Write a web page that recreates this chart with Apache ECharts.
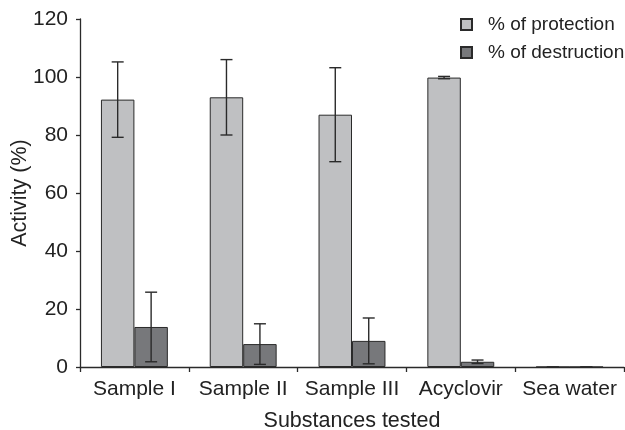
<!DOCTYPE html>
<html>
<head>
<meta charset="utf-8">
<script src="https://cdn.jsdelivr.net/npm/echarts@6/dist/echarts.min.js"></script>
<style>html,body{margin:0;padding:0;background:#fff;}#c{width:625px;height:430px;}</style>
</head>
<body>
<div id="c"></div>
<script>
const categories = ['Sample I', 'Sample II', 'Sample III', 'Acyclovir', 'Sea water'];
const protection = [92.2, 93.0, 87.0, 99.8, 0];
const protectionErr = [13.0, 13.0, 16.2, 0.4, 0];
const destruction = [13.8, 7.9, 9.0, 1.8, 0];
const destructionErr = [12.0, 7.0, 7.9, 0.6, 0];
const yTicks = [0, 20, 40, 60, 80, 100, 120];

const catGap = 0.385;
const font = 'Liberation Sans, Arial, sans-serif';
const textColor = '#222';

function errData(vals, errs, side) {
  return vals.map((v, i) => [i, v, errs[i], side]);
}

function renderErr(params, api) {
  const idx = api.value(0), val = api.value(1), err = api.value(2), side = api.value(3);
  const band = api.size([1, 0])[0];
  const bw = band * (1 - catGap) / 2;
  const c = api.coord([idx, val]);
  const x = c[0] + side * bw / 2;
  const top = api.coord([idx, val + err])[1];
  const bot = api.coord([idx, Math.max(val - err, 0)])[1];
  const hw = 6;
  const st = { stroke: '#2a2a2a', lineWidth: 1.4 };
  return {
    type: 'group',
    children: [
      { type: 'line', shape: { x1: x, y1: top, x2: x, y2: bot }, style: st },
      { type: 'line', shape: { x1: x - hw, y1: top, x2: x + hw, y2: top }, style: st },
      { type: 'line', shape: { x1: x - hw, y1: bot, x2: x + hw, y2: bot }, style: st }
    ]
  };
}

const chart = echarts.init(document.getElementById('c'), null, { renderer: 'canvas' });
chart.setOption({
  animation: false,
  backgroundColor: '#fff',
  textStyle: { fontFamily: font },
  grid: { left: 80, right: 1, top: 19, bottom: 63, containLabel: false, outerBoundsMode: 'none' },
  legend: {
    data: ['% of protection', '% of destruction'],
    orient: 'vertical',
    left: 460,
    top: 15,
    padding: 0,
    icon: 'rect',
    itemWidth: 11,
    itemHeight: 11,
    itemGap: 9,
    textStyle: { fontSize: 19, color: textColor, fontFamily: font, padding: [0, 0, 0, 11], lineHeight: 19, overflow: 'none' }
  },
  xAxis: {
    type: 'category',
    data: categories,
    name: 'Substances tested',
    nameLocation: 'middle',
    nameGap: 43,
    nameMoveOverlap: false,
    nameTextStyle: { fontSize: 21.5, color: textColor, fontFamily: font },
    axisLine: { lineStyle: { color: '#2a2a2a', width: 1.3 } },
    axisTick: { show: true, length: 5, inside: false, alignWithLabel: false, lineStyle: { color: '#2a2a2a', width: 1.3 } },
    axisLabel: { fontSize: 21, color: textColor, margin: 12, interval: 0, fontFamily: font }
  },
  yAxis: {
    type: 'value',
    min: yTicks[0],
    max: yTicks[yTicks.length - 1],
    interval: 20,
    name: 'Activity (%)',
    nameLocation: 'middle',
    nameGap: 49,
    nameMoveOverlap: false,
    nameTextStyle: { fontSize: 21.5, color: textColor, fontFamily: font },
    axisLine: { show: true, lineStyle: { color: '#2a2a2a', width: 1.3 } },
    axisTick: { show: true, length: 4, lineStyle: { color: '#2a2a2a', width: 1.3 } },
    axisLabel: { fontSize: 21, color: textColor, margin: 12, fontFamily: font },
    splitLine: { show: false }
  },
  series: [
    {
      name: '% of protection',
      type: 'bar',
      data: protection,
      barGap: '0%',
      barCategoryGap: (catGap * 100) + '%',
      itemStyle: { color: '#bfc0c2', borderColor: '#2a2a2a', borderWidth: 1 }
    },
    {
      name: '% of destruction',
      type: 'bar',
      data: destruction,
      itemStyle: { color: '#77787b', borderColor: '#2a2a2a', borderWidth: 1 }
    },
    {
      name: 'errP',
      type: 'custom',
      renderItem: renderErr,
      data: errData(protection, protectionErr, -1),
      encode: { x: 0, y: 1 },
      z: 10
    },
    {
      name: 'errD',
      type: 'custom',
      renderItem: renderErr,
      data: errData(destruction, destructionErr, 1),
      encode: { x: 0, y: 1 },
      z: 10
    }
  ]
});
</script>
</body>
</html>
